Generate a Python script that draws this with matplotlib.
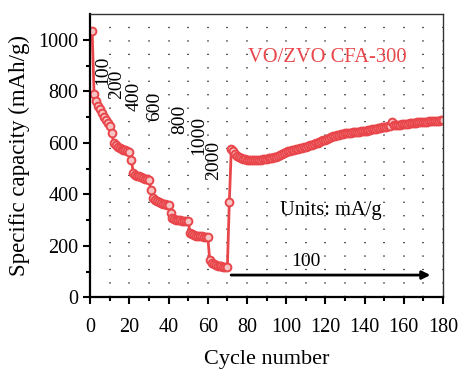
import numpy as np
import matplotlib
matplotlib.use("Agg")
import matplotlib.pyplot as plt

plt.rcParams['font.family'] = ['Liberation Serif', 'DejaVu Serif']

# capacity (mAh/g) per cycle, in blocks of 10 cycles
cap_rate = [
    1036, 790, 762, 745, 730, 715, 702, 690, 678, 665,   # 100 mA/g
    638, 600, 590, 584, 580, 577, 574, 571, 568, 565,    # 200
    534, 483, 477, 473, 470, 467, 464, 461, 458, 456,    # 400
    417, 386, 378, 373, 369, 366, 364, 362, 360, 358,    # 600
    328, 309, 304, 302, 300, 299, 298, 297, 296, 295,    # 800
    250, 245, 242, 240, 239, 238, 237, 236, 235, 234,    # 1000
    146, 135, 129, 126, 124, 122, 121, 120, 119, 118,    # 2000
]
cap_back = [
    371, 576, 568, 558, 550, 545, 541, 538, 536, 535,
    534, 533, 533, 533, 534, 534, 535, 536, 537, 538,
    540, 541, 543, 545, 547, 549, 552, 556, 561, 565,
    567, 569, 571, 573, 575, 577, 579, 581, 583, 585,
    588, 590, 593, 596, 598, 601, 604, 607, 610, 613,
    616, 619, 622, 625, 627, 629, 631, 633, 635, 637,
    638, 639, 640, 641, 642, 643, 644, 645, 646, 647,
    648, 649, 651, 652, 654, 655, 657, 658, 660, 661,
    663, 664, 666, 680, 668, 669, 670, 671, 672, 673,
    674, 675, 676, 677, 678, 679, 680, 681, 681, 682,
    683, 683, 684, 684, 685, 685, 686, 686, 687, 687,
]
capacity = np.array(cap_rate + cap_back)
cycles = np.arange(1, len(capacity) + 1)

rate_labels = ["100", "200", "400", "600", "800", "1000", "2000"]
rate_label_x = [6.3, 13.5, 22.6, 32.8, 45.6, 55.2, 63.0]
rate_label_y = [880, 829, 782, 740, 693, 627, 530]

red = "#e8464b"

fig = plt.figure(figsize=(4.6, 3.7), dpi=100)
ax = fig.add_axes([0.196, 0.196, 0.767, 0.766])

ax.xaxis.grid(True, which='both', color='#222222', linestyle=(0, (0.8, 8.0)), linewidth=1.1)
ax.set_axisbelow(True)

ax.plot(cycles, capacity, '-o', color=red, lw=2.0, ms=5.6,
        mfc='#f7c4c4', mec=red, mew=1.4)

for lab, x, y in zip(rate_labels, rate_label_x, rate_label_y):
    ax.text(x, y, lab, rotation=90, ha='center', va='center', fontsize=14)

ax.text(121, 930, "VO/ZVO CFA-300", color=red, fontsize=14.8, ha='center', va='center')
ax.text(123, 336, "Units: mA/g", fontsize=14.8, ha='center', va='center')
ax.text(110, 141, "100", fontsize=14, ha='center', va='center')
ax.annotate('', xy=(175, 87), xytext=(70.5, 87),
            arrowprops=dict(arrowstyle='-|>', color='k', lw=2, mutation_scale=12))

ax.set_xlim(0, 180)
ax.set_ylim(0, 1100)
ax.set_xticks(np.arange(0, 181, 20))
ax.set_xticks(np.arange(10, 180, 20), minor=True)
ax.set_yticks(np.arange(0, 1001, 200))
ax.set_yticks(np.arange(100, 1100, 200), minor=True)
ax.tick_params(axis='both', which='major', direction='out', length=5, width=1.5, labelsize=14.5)
ax.tick_params(axis='both', which='minor', direction='out', length=3, width=1.5)
ax.tick_params(top=False, right=False, which='both')
ax.tick_params(axis='x', pad=10)

for s in ['left', 'bottom']:
    ax.spines[s].set_linewidth(1.6)
for s in ['top', 'right']:
    ax.spines[s].set_linewidth(1.0)
    ax.spines[s].set_color('#333333')

ax.set_xlabel("Cycle number", fontsize=16, labelpad=9)
ax.set_ylabel("Specific capacity (mAh/g)", fontsize=16.5, labelpad=6)

fig.savefig("out.png", dpi=100)
